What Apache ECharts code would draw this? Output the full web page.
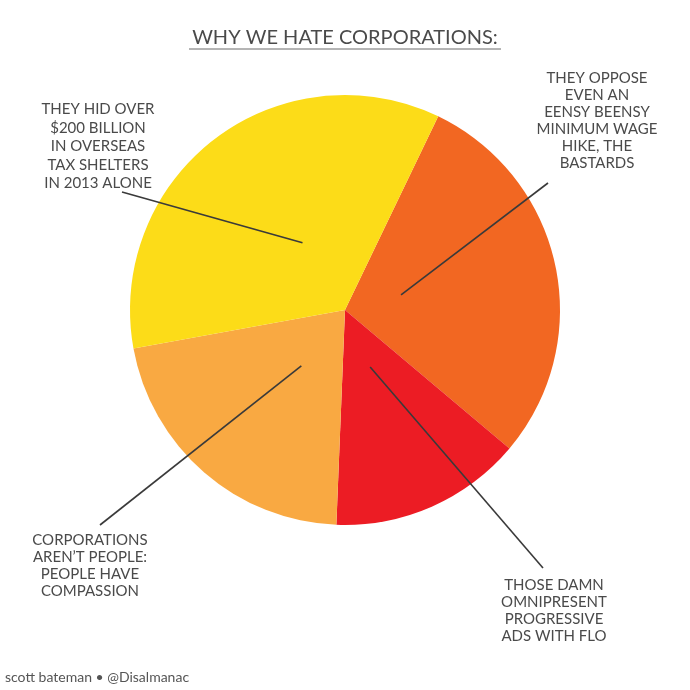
<!DOCTYPE html>
<html>
<head>
<meta charset="utf-8">
<script src="https://cdn.jsdelivr.net/npm/echarts@6/dist/echarts.min.js"></script>
<style>
html,body{margin:0;padding:0;background:#fff;}
#chart{width:690px;height:690px;}
</style>
</head>
<body>
<div id="chart"></div>
<script>
// Data
var categories = [
  "THEY OPPOSE\nEVEN AN\nEENSY BEENSY\nMINIMUM WAGE\nHIKE, THE\nBASTARDS",
  "THOSE DAMN\nOMNIPRESENT\nPROGRESSIVE\nADS WITH FLO",
  "CORPORATIONS\nAREN\u2019T PEOPLE:\nPEOPLE HAVE\nCOMPASSION",
  "THEY HID OVER\n$200 BILLION\nIN OVERSEAS\nTAX SHELTERS\nIN 2013 ALONE"
];
var values = [29, 14.5, 21.5, 35];
var colors = ["#F26722", "#EC1C24", "#F9A942", "#FCDC18"];

var titleText = "WHY WE HATE CORPORATIONS:";
var footerText = "scott bateman \u2022 @Disalmanac";

// layout
var cx = 345, cy = 310, R = 215;
var startFromTop = 25.7; // degrees clockwise from 12 o'clock
var labelPos = [
  {x: 597, y: 70, lh: 17},
  {x: 554, y: 577, lh: 17},
  {x: 90, y: 532, lh: 17},
  {x: 98, y: 100, lh: 18.5}
];
var innerFrac = [0.27, 0.29, 0.33, 0.37];
var angleShift = [-3, 0, -3, 5];
var lineEnds = [[548, 183], [543, 568], [100, 525], [122, 192]];

var total = values.reduce(function(a,b){return a+b;},0);
var graphics = [];
var acc = startFromTop;
values.forEach(function(v, i){
  var span = v/total*360;
  var mid = (acc + span/2 + angleShift[i]) * Math.PI/180;
  acc += span;
  var r = R*innerFrac[i];
  var px = cx + r*Math.sin(mid), py = cy - r*Math.cos(mid);
  graphics.push({
    type: 'line', z: 10,
    shape: {x1: px, y1: py, x2: lineEnds[i][0], y2: lineEnds[i][1]},
    style: {stroke: '#3a3a3a', lineWidth: 1.6}
  });
  graphics.push({
    type: 'text', z: 10,
    x: labelPos[i].x, y: labelPos[i].y,
    style: {
      text: categories[i], fill: '#4a4a4a',
      font: '15px Lato', textAlign: 'center', textVerticalAlign: 'top',
      lineHeight: labelPos[i].lh
    }
  });
});
graphics.push({
  type: 'text', x: 345, y: 38,
  style: {text: titleText, fill: '#4a4a4a', font: '20px Lato', textAlign: 'center', textVerticalAlign: 'middle'}
});
graphics.push({
  type: 'line', shape: {x1: 189, y1: 49, x2: 501, y2: 49},
  style: {stroke: '#6a6a6a', lineWidth: 1}
});
graphics.push({
  type: 'text', x: 5, y: 677,
  style: {text: footerText, fill: '#555', font: '14px Lato', textAlign: 'left', textVerticalAlign: 'middle'}
});

var chart = echarts.init(document.getElementById('chart'), null, {renderer: 'canvas'});
chart.setOption({
  backgroundColor: '#fff',
  animation: false,
  series: [{
    type: 'pie',
    center: [cx, cy],
    radius: [0, R],
    startAngle: 90 - startFromTop,
    clockwise: true,
    label: {show: false},
    labelLine: {show: false},
    emphasis: {disabled: true},
    data: values.map(function(v, i){
      return {value: v, name: categories[i], itemStyle: {color: colors[i]}};
    })
  }],
  graphic: graphics
});
</script>
</body>
</html>
